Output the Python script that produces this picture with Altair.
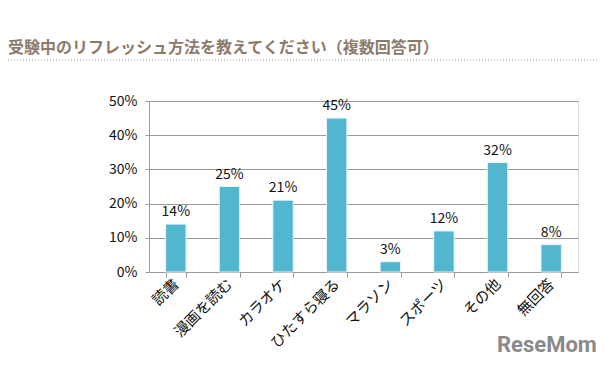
import altair as alt
import pandas as pd

categories = ["読書", "漫画を読む", "カラオケ", "ひたすら寝る", "マラソン", "スポーツ", "その他", "無回答"]
values = [14, 25, 21, 45, 3, 12, 32, 8]
y_ticks = [0, 10, 20, 30, 40, 50]
title_text = "受験中のリフレッシュ方法を教えてください（複数回答可）"
logo_text = "ReseMom"

df = pd.DataFrame({"cat": categories, "val": values, "lab": [f"{v}%" for v in values]})

FONT = "Noto Sans CJK JP"

x_enc = alt.X("cat:N", sort=categories, title=None,
              scale=alt.Scale(paddingInner=0.62, paddingOuter=0.31),
              axis=alt.Axis(labelAngle=-45, labelAlign="right", labelBaseline="middle",
                            labelFontSize=15, labelColor="#111", labelFont=FONT,
                            tickBand="extent", tickSize=5, tickColor="#999",
                            domainColor="#999", labelPadding=4, labelOverlap=False))
y_enc = alt.Y("val:Q", title=None,
              scale=alt.Scale(domain=[0, 50]),
              axis=alt.Axis(values=y_ticks, labelExpr="datum.value + '%'",
                            labelFontSize=14, labelColor="#111", labelFont=FONT,
                            gridColor="#999", gridWidth=1, domainColor="#999",
                            tickColor="#999", tickSize=4, labelPadding=8,
                            labelOverlap=False))

bars = alt.Chart(df).mark_bar(color="#52b6cf", stroke="#e8f4f8", strokeWidth=1).encode(x=x_enc, y=y_enc)
labels = alt.Chart(df).mark_text(dy=-12, fontSize=14, color="#111", font=FONT).encode(
    x=x_enc, y=y_enc, text="lab:N")

title = alt.Chart(pd.DataFrame({"t": [title_text]})).mark_text(
    align="left", baseline="middle", fontSize=16, fontWeight="bold", color="#8c7b6c", font=FONT
).encode(text="t:N", x=alt.value(-141), y=alt.value(-53))

dots = alt.Chart(pd.DataFrame({"a": [0]})).mark_rule(
    color="#999", strokeDash=[1, 2], strokeWidth=1
).encode(x=alt.value(-141), x2=alt.value(448), y=alt.value(-41))

logo = alt.Chart(pd.DataFrame({"t": [logo_text]})).mark_text(
    align="left", baseline="middle", fontSize=22, fontWeight="bold", color="#8a8a8a", font="Roboto"
).encode(text="t:N", x=alt.value(348), y=alt.value(244))

chart = alt.layer(bars, labels, title, dots, logo).properties(
    width=429, height=171,
    autosize=alt.AutoSizeParams(type="none"),
    padding={"left": 141, "top": 93, "right": 19, "bottom": 85},
).configure_view(stroke=None).configure(background="white")

chart.save("out.html", embed_options={"renderer": "svg", "actions": False})
